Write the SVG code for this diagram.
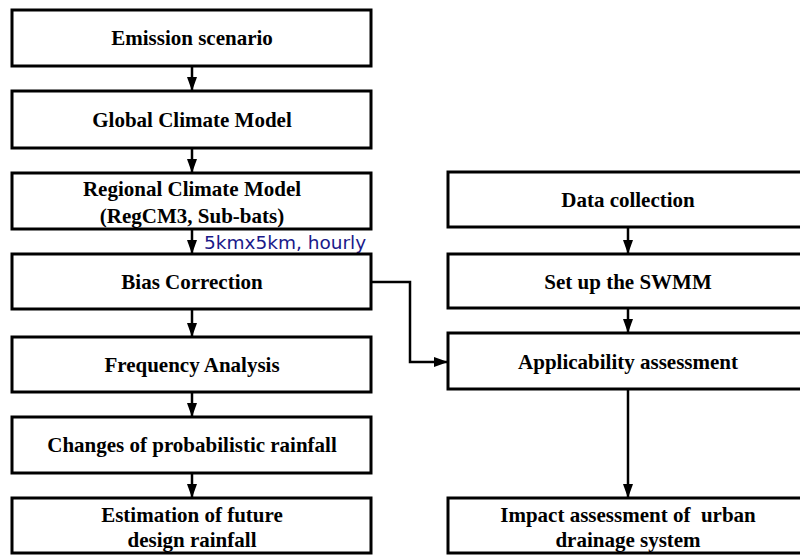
<svg xmlns="http://www.w3.org/2000/svg" width="800" height="555" viewBox="0 0 800 555">
<style>
.box{fill:#fff;stroke:#000;stroke-width:3}
.t{font-family:"Liberation Serif","Times New Roman",serif;font-weight:bold;font-size:21px;fill:#000;text-anchor:middle}
.c{fill:none;stroke:#000;stroke-width:2.5}
.lbl{font-family:"DejaVu Sans","Liberation Sans",sans-serif;font-size:18.5px;fill:#1a1a8a}
</style>
<defs>
<marker id="ah" markerWidth="14" markerHeight="10" refX="14" refY="5" orient="auto" markerUnits="userSpaceOnUse">
<path d="M0,0 L14,5 L0,10 Z" fill="#000"/>
</marker>
</defs>
<rect width="800" height="555" fill="#fff"/>
<g id="connectors">
<line class="c" x1="192" y1="66" x2="192" y2="91" marker-end="url(#ah)"/>
<line class="c" x1="192" y1="148" x2="192" y2="173" marker-end="url(#ah)"/>
<line class="c" x1="192" y1="229" x2="192" y2="254" marker-end="url(#ah)"/>
<line class="c" x1="192" y1="309" x2="192" y2="337" marker-end="url(#ah)"/>
<line class="c" x1="192" y1="392" x2="192" y2="417" marker-end="url(#ah)"/>
<line class="c" x1="192" y1="473" x2="192" y2="498" marker-end="url(#ah)"/>
<line class="c" x1="628" y1="227" x2="628" y2="254" marker-end="url(#ah)"/>
<line class="c" x1="628" y1="308" x2="628" y2="333" marker-end="url(#ah)"/>
<line class="c" x1="628" y1="389" x2="628" y2="498" marker-end="url(#ah)"/>
<polyline class="c" points="371,282 410,282 410,362 448,362" marker-end="url(#ah)"/>
<text class="lbl" x="204" y="249">5kmx5km, hourly</text>
</g>
<g id="n1"><rect class="box" x="12" y="10" width="359" height="56"/><text class="t" x="192" y="45">Emission scenario</text></g>
<g id="n2"><rect class="box" x="12" y="91" width="359" height="57"/><text class="t" x="192" y="127">Global Climate Model</text></g>
<g id="n3"><rect class="box" x="12" y="173" width="359" height="56"/><text class="t" x="192" y="196">Regional Climate Model</text><text class="t" x="192" y="223">(RegCM3, Sub-bats)</text></g>
<g id="n4"><rect class="box" x="12" y="254" width="359" height="55"/><text class="t" x="192" y="289">Bias Correction</text></g>
<g id="n5"><rect class="box" x="12" y="337" width="359" height="55"/><text class="t" x="192" y="372">Frequency Analysis</text></g>
<g id="n6"><rect class="box" x="12" y="417" width="359" height="56"/><text class="t" x="192" y="452">Changes of probabilistic rainfall</text></g>
<g id="n7"><rect class="box" x="12" y="498" width="359" height="55"/><text class="t" x="192" y="522">Estimation of future</text><text class="t" x="192" y="547">design rainfall</text></g>
<g id="r1"><rect class="box" x="448" y="172" width="362" height="55"/><text class="t" x="628" y="207">Data collection</text></g>
<g id="r2"><rect class="box" x="448" y="254" width="362" height="54"/><text class="t" x="628" y="289">Set up the SWMM</text></g>
<g id="r3"><rect class="box" x="448" y="333" width="362" height="56"/><text class="t" x="628" y="369">Applicability assessment</text></g>
<g id="r4"><rect class="box" x="448" y="498" width="362" height="55"/><text class="t" x="628" y="522" xml:space="preserve">Impact assessment of  urban</text><text class="t" x="628" y="547">drainage system</text></g>
</svg>
